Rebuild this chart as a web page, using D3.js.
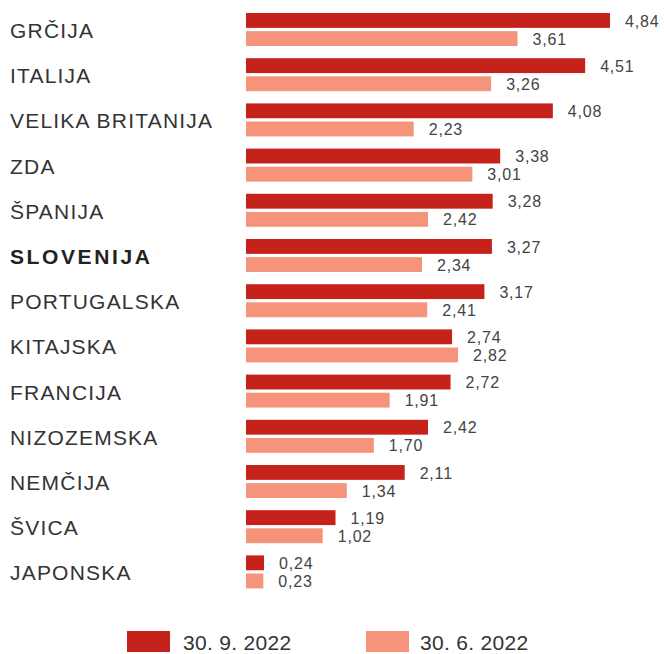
<!DOCTYPE html>
<html>
<head>
<meta charset="utf-8">
<script src="https://cdn.jsdelivr.net/npm/d3@7"></script>
<style>
  body { margin: 0; background: #fff; }
  svg { display: block; font-family: "Liberation Sans", Arial, sans-serif; }
</style>
</head>
<body>
<div id="chart"></div>
<script>
// podatki
const drzave = ["GRČIJA", "ITALIJA", "VELIKA BRITANIJA", "ZDA", "ŠPANIJA", "SLOVENIJA", "PORTUGALSKA", "KITAJSKA", "FRANCIJA", "NIZOZEMSKA", "NEMČIJA", "ŠVICA", "JAPONSKA"];
const sep2022 = [4.84, 4.51, 4.08, 3.38, 3.28, 3.27, 3.17, 2.74, 2.72, 2.42, 2.11, 1.19, 0.24];
const jun2022 = [3.61, 3.26, 2.23, 3.01, 2.42, 2.34, 2.41, 2.82, 1.91, 1.70, 1.34, 1.02, 0.23];
const serije = ["30. 9. 2022", "30. 6. 2022"];
const barve = ["#c5221c", "#f5947a"];

const width = 664, height = 654;

const svg = d3.select("#chart")
    .append("svg")
        .attr("width", width)
        .attr("height", height);

// tabela za risanje
const data = drzave.map((d, i) => ({drzava: d, vrednosti: [sep2022[i], jun2022[i]]}));

// skale
const y = d3.scaleBand()
    .domain(drzave)
    .range([13, 13 + 13 * 45.2])
    .padding(0);

const yInner = d3.scaleBand()
    .domain(serije)
    .range([0, 33])
    .paddingInner(0.18);

const x = d3.scaleLinear()
    .domain([0, 4.84])
    .range([246, 610]);

const fmt = v => d3.format(".2f")(v).replace(".", ",");

// skupine po državah
const vrstice = svg.selectAll(".vrstica")
    .data(data)
    .enter()
    .append("g")
        .attr("class", "vrstica")
        .attr("transform", d => `translate(0, ${y(d.drzava)})`);

// imena držav
vrstice.append("text")
    .attr("x", 10)
    .attr("y", 25)
    .style("font-size", "21px")
    .style("letter-spacing", d => d.drzava === "SLOVENIJA" ? "2.6px" : "1.2px")
    .style("font-weight", d => d.drzava === "SLOVENIJA" ? "bold" : "normal")
    .style("fill", d => d.drzava === "SLOVENIJA" ? "#222" : "#333")
    .text(d => d.drzava);

// stolpci
vrstice.selectAll(".stolpec")
    .data(d => d.vrednosti.map((v, j) => ({serija: serije[j], v: v, j: j})))
    .enter()
    .append("rect")
        .attr("class", "stolpec")
        .attr("x", x(0))
        .attr("y", d => yInner(d.serija))
        .attr("width", d => x(d.v) - x(0))
        .attr("height", yInner.bandwidth())
        .attr("fill", d => barve[d.j]);

// vrednosti
vrstice.selectAll(".vrednost")
    .data(d => d.vrednosti.map((v, j) => ({serija: serije[j], v: v})))
    .enter()
    .append("text")
        .attr("class", "vrednost")
        .attr("x", d => x(d.v) + 15)
        .attr("y", d => yInner(d.serija) + 13.5)
        .style("font-size", "16px")
        .style("letter-spacing", "0.8px")
        .style("fill", "#444")
        .text(d => fmt(d.v));

// legenda
const legX = [127, 366];
const legenda = svg.selectAll(".legenda")
    .data(serije)
    .enter()
    .append("g")
        .attr("class", "legenda")
        .attr("transform", (d, i) => `translate(${legX[i]}, 631)`);

legenda.append("rect")
    .attr("width", 43)
    .attr("height", 21)
    .attr("fill", (d, i) => barve[i]);

legenda.append("text")
    .attr("x", (d, i) => i === 0 ? 56 : 54)
    .attr("y", 19)
    .style("font-size", "21px")
    .style("letter-spacing", "0.3px")
    .style("fill", "#333")
    .text(d => d);
</script>
</body>
</html>
